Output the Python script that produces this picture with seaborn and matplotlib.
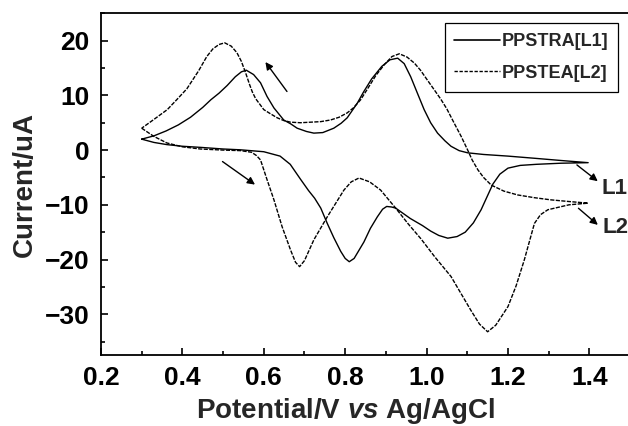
import numpy as np
import pandas as pd
import seaborn as sns
import matplotlib.pyplot as plt
import matplotlib.ticker as ticker
from matplotlib.lines import Line2D

# PPSTRA [L1] -- forward scan (lower branch), then reverse scan (upper branch)
l1_fwd_x = [0.300, 0.330, 0.362, 0.400, 0.444, 0.500, 0.543, 0.600, 0.640, 0.665,
            0.690, 0.710, 0.725, 0.740, 0.756, 0.772, 0.789, 0.800, 0.810, 0.822,
            0.834, 0.846, 0.862, 0.879, 0.892, 0.902, 0.914, 0.924, 0.960, 0.990,
            1.010, 1.030, 1.052, 1.075, 1.095, 1.115, 1.134, 1.150, 1.163, 1.180,
            1.200, 1.230, 1.270, 1.330, 1.397]
l1_fwd_y = [2.0, 1.4, 1.0, 0.7, 0.5, 0.2, 0.05, -0.3, -1.1, -2.6,
            -5.3, -7.4, -8.8, -10.6, -13.4, -16.0, -18.5, -19.8, -20.4, -19.8,
            -18.3, -16.8, -14.3, -12.2, -10.8, -10.3, -10.4, -10.6, -12.5, -13.8,
            -14.8, -15.6, -16.1, -15.8, -15.0, -13.3, -10.9, -8.3, -6.2, -4.4,
            -3.3, -2.8, -2.6, -2.4, -2.3]
l1_rev_x = [1.397, 1.330, 1.266, 1.200, 1.140, 1.101, 1.080, 1.060, 1.045, 1.027,
            1.010, 0.994, 0.978, 0.961, 0.945, 0.929, 0.910, 0.890, 0.865, 0.845,
            0.830, 0.805, 0.790, 0.772, 0.745, 0.723, 0.705, 0.682, 0.666, 0.649,
            0.625, 0.608, 0.592, 0.575, 0.557, 0.545, 0.530, 0.510, 0.490, 0.470,
            0.450, 0.420, 0.390, 0.360, 0.330, 0.300]
l1_rev_y = [-2.3, -1.9, -1.5, -1.1, -0.8, -0.5, -0.1, 0.7, 1.7, 3.1,
            5.0, 7.4, 10.3, 13.4, 15.8, 16.8, 16.5, 15.3, 13.0, 10.6,
            8.6, 5.9, 4.9, 4.0, 3.2, 3.1, 3.4, 4.0, 4.8, 5.5,
            7.7, 9.8, 12.3, 13.8, 14.6, 14.3, 13.4, 11.8, 10.4, 9.2,
            7.8, 6.0, 4.6, 3.5, 2.6, 2.0]

# PPSTEA [L2]
l2_fwd_x = [0.300, 0.330, 0.362, 0.400, 0.444, 0.500, 0.543, 0.570, 0.582, 0.592,
            0.608, 0.625, 0.645, 0.666, 0.678, 0.688, 0.700, 0.723, 0.756, 0.797,
            0.815, 0.834, 0.860, 0.887, 0.924, 0.955, 0.986, 1.020, 1.060, 1.109,
            1.130, 1.150, 1.170, 1.200, 1.220, 1.240, 1.265, 1.280, 1.298, 1.350,
            1.397]
l2_fwd_y = [4.0, 2.5, 1.3, 0.6, 0.2, 0.0, -0.1, -0.4, -1.0, -1.8,
            -5.4, -9.1, -14.0, -18.3, -20.5, -21.3, -20.2, -16.4, -12.2, -7.3,
            -5.8, -5.1, -5.8, -7.3, -10.6, -13.5, -16.2, -19.5, -23.1, -29.3,
            -31.8, -33.2, -32.0, -28.6, -24.8, -20.1, -13.4, -11.8, -10.9, -10.0,
            -9.7]
l2_rev_x = [1.397, 1.350, 1.306, 1.265, 1.224, 1.190, 1.159, 1.140, 1.126, 1.112,
            1.101, 1.085, 1.068, 1.050, 1.035, 1.019, 1.000, 0.985, 0.970, 0.952,
            0.933, 0.915, 0.896, 0.875, 0.855, 0.838, 0.820, 0.805, 0.785, 0.764,
            0.740, 0.715, 0.690, 0.666, 0.649, 0.633, 0.615, 0.600, 0.590, 0.580,
            0.572, 0.565, 0.555, 0.545, 0.534, 0.520, 0.504, 0.490, 0.475, 0.460,
            0.440, 0.411, 0.386, 0.363, 0.330, 0.300]
l2_rev_y = [-9.7, -9.4, -9.1, -8.7, -8.2, -7.5, -6.4, -5.0, -3.6, -1.8,
            0.0, 2.5, 4.9, 7.5, 9.3, 11.0, 13.0, 14.6, 15.9, 17.0,
            17.6, 17.1, 15.6, 13.6, 11.2, 9.2, 7.7, 6.8, 6.0, 5.5,
            5.2, 5.1, 5.0, 5.1, 5.4, 5.9, 6.7, 7.4, 8.4, 9.4,
            10.6, 12.0, 14.2, 16.2, 17.8, 19.0, 19.6, 19.3, 18.5, 17.1,
            14.5, 11.2, 9.2, 7.4, 5.6, 4.0]

names = ["PPSTRA[L1]", "PPSTEA[L2]"]


def scan_frame(xs, ys, name):
    return pd.DataFrame({"potential": xs, "current": ys, "curve": name})


df = pd.concat([
    scan_frame(l1_fwd_x + l1_rev_x, l1_fwd_y + l1_rev_y, names[0]),
    scan_frame(l2_fwd_x + l2_rev_x, l2_fwd_y + l2_rev_y, names[1]),
], ignore_index=True)

sns.set_style("ticks")
plt.rcParams["font.family"] = ["Liberation Sans", "DejaVu Sans"]
plt.rcParams["font.weight"] = "bold"
plt.rcParams["mathtext.fontset"] = "custom"
plt.rcParams["mathtext.it"] = "Liberation Sans:italic:bold"
plt.rcParams["mathtext.rm"] = "Liberation Sans:bold"

fig = plt.figure(figsize=(6.28, 4.26), dpi=100)
ax = fig.add_axes([0.1608, 0.166, 0.8425, 0.8028])

l2_dash = (3.0, 1.0)
sns.lineplot(
    data=df, x="potential", y="current", style="curve",
    dashes={names[0]: "", names[1]: l2_dash},
    sort=False, estimator=None, color="black", linewidth=1.0,
    legend=False, ax=ax,
)

ax.set_xlim(0.2, 1.5)
ax.set_ylim(-37.5, 25)
ax.xaxis.set_major_locator(ticker.FixedLocator([0.2, 0.4, 0.6, 0.8, 1.0, 1.2, 1.4]))
ax.xaxis.set_minor_locator(ticker.MultipleLocator(0.1))
ax.xaxis.set_major_formatter(ticker.FormatStrFormatter("%.1f"))
ax.yaxis.set_major_locator(ticker.FixedLocator([-30, -20, -10, 0, 10, 20]))
ax.yaxis.set_minor_locator(ticker.MultipleLocator(5))

ax.tick_params(which="both", direction="in", width=1.2, colors="black")
ax.tick_params(which="major", length=5, labelsize=19, pad=8)
ax.tick_params(which="minor", length=3)
for s in ax.spines.values():
    s.set_linewidth(1.3)
    s.set_color("black")

ax.set_xlabel(r"Potential/V $\mathit{vs}$ Ag/AgCl", fontsize=20, fontweight="bold")
ax.set_ylabel("Current/uA", fontsize=20, fontweight="bold")
ax.xaxis.set_label_coords(0.462, -0.118)
ax.yaxis.set_label_coords(-0.12, 0.5)

arrow = dict(arrowstyle="-|>", color="black", lw=1.0, mutation_scale=11)
ax.annotate("", xy=(0.584, -6.6), xytext=(0.493, -1.8), arrowprops=arrow)
ax.annotate("", xy=(0.600, 16.5), xytext=(0.661, 10.3), arrowprops=arrow)
ax.annotate("", xy=(1.426, -6.0), xytext=(1.364, -2.4), arrowprops=arrow)
ax.annotate("", xy=(1.426, -14.0), xytext=(1.368, -10.3), arrowprops=arrow)
ax.text(1.462, -7.0, "L1", fontsize=16, fontweight="bold", ha="center", va="center")
ax.text(1.464, -14.1, "L2", fontsize=16, fontweight="bold", ha="center", va="center")

handles = [
    Line2D([], [], color="black", lw=1.2),
    Line2D([], [], color="black", lw=1.0, dashes=(2.4, 1.2)),
]
leg = ax.legend(
    handles, names, loc="upper right", bbox_to_anchor=(0.984, 0.945),
    bbox_transform=fig.transFigure, fancybox=False, framealpha=1,
    edgecolor="black", handlelength=2.5, handletextpad=0.1,
    borderpad=0.55, labelspacing=0.8, borderaxespad=0,
    prop={"weight": "bold", "size": 13},
)
leg.get_frame().set_linewidth(0.9)

fig.savefig("out.png", dpi=100)
